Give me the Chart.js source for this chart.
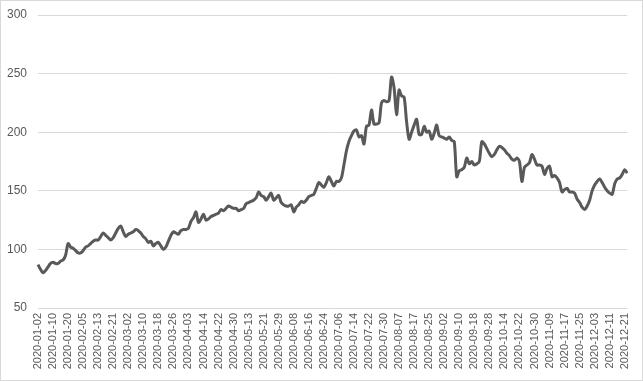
<!DOCTYPE html>
<html>
<head>
<meta charset="utf-8">
<script src="https://cdn.jsdelivr.net/npm/chart.js@4/dist/chart.umd.min.js"></script>
<style>
html,body{margin:0;padding:0;background:#fff;}
#wrap{position:relative;width:643px;height:381px;}
</style>
</head>
<body>
<div id="wrap"><canvas id="c" width="643" height="381"></canvas></div>
<script>
// Chinese A-share trading days of 2020 (weekdays minus exchange holidays)
const holidays = ["2020-01-01","2020-01-24","2020-01-27","2020-01-28","2020-01-29","2020-01-30","2020-01-31",
  "2020-04-06","2020-05-01","2020-05-04","2020-05-05","2020-06-25","2020-06-26",
  "2020-10-01","2020-10-02","2020-10-05","2020-10-06","2020-10-07","2020-10-08"];
const firstDay = "2020-01-02";
const lastDay = "2020-12-22";

const values = [
  87,83,80,82,85,88,89,88,88,90,
  91,95,105,102,101,99,97,97,99,102,
  103,105,107,108,108,111,114,112,110,108,
  110,114,118,120,115,111,113,114,115,117,
  116,114,111,109,106,107,103,105,106,103,
  100,102,107,112,115,114,113,116,117,117,
  118,124,127,132,123,126,130,125,126,128,
  129,130,131,134,133,135,137,136,135,135,
  133,134,135,139,140,141,142,144,149,146,
  145,142,145,148,142,144,146,140,138,137,
  137,138,132,136,138,141,140,142,145,146,
  147,152,157,155,153,157,162,158,154,158,
  158,161,172,184,192,197,201,202,196,197,
  190,205,206,219,207,207,208,225,227,226,
  227,247,238,215,236,231,230,209,194,200,
  206,211,198,198,205,200,201,194,199,206,
  197,196,195,194,196,193,192,162,167,168,
  170,178,173,175,172,173,175,192,190,186,
  182,179,181,185,188,187,185,182,180,177,
  176,178,175,158,170,172,174,181,177,172,
  172,171,164,169,171,162,163,161,157,149,
  151,152,149,149,148,143,140,136,134,137,
  142,150,155,158,160,157,153,150,148,147,
  156,160,161,164,168,165
];

const yTicks = [50,100,150,200,250,300];
const labelEvery = 6;

function buildDates(){
  const out = [];
  const d = new Date(firstDay + "T00:00:00Z");
  const end = new Date(lastDay + "T00:00:00Z");
  while (d <= end){
    const s = d.toISOString().slice(0,10);
    const wd = d.getUTCDay();
    if (wd !== 0 && wd !== 6 && holidays.indexOf(s) < 0) out.push(s);
    d.setUTCDate(d.getUTCDate()+1);
  }
  return out;
}
const dates = buildDates();

const borderPlugin = {
  id:'outerBorder',
  afterDraw(chart){
    const ctx = chart.ctx;
    ctx.save();
    ctx.strokeStyle = '#d9d9d9';
    ctx.lineWidth = 1;
    ctx.strokeRect(0.5,0.5,chart.width-1,chart.height-1);
    ctx.restore();
  }
};

new Chart(document.getElementById('c'), {
  type:'line',
  data:{
    labels: dates,
    datasets:[{
      data: values.slice(0, dates.length),
      borderColor:'#595959',
      borderWidth:3,
      pointRadius:0,
      tension:0.3,
      fill:false
    }]
  },
  options:{
    responsive:false,
    animation:false,
    devicePixelRatio:1,
    layout:{padding:{top:15,right:15,left:0,bottom:0}},
    plugins:{legend:{display:false},tooltip:{enabled:false}},
    scales:{
      x:{
        offset:false,
        grid:{display:false,drawTicks:false},
        border:{display:false},
        afterFit(s){ s.height = 73; s.paddingTop = 0; },
        ticks:{
          autoSkip:false,
          maxRotation:90,minRotation:90,
          padding:5,
          color:'#595959',
          font:{family:'Liberation Sans',size:11},
          callback(v,i){ return i % labelEvery === 0 ? dates[i] : null; }
        }
      },
      y:{
        min:50,max:300,
        afterFit(s){ s.width = 38; s.paddingTop = 0; s.paddingBottom = 0; },
        afterBuildTicks(s){ s.ticks = yTicks.map(v=>({value:v})); },
        grid:{color:'#d9d9d9',lineWidth:1,drawTicks:false},
        border:{display:false},
        ticks:{
          padding:11,
          color:'#595959',
          font:{family:'Liberation Sans',size:12}
        }
      }
    }
  },
  plugins:[borderPlugin]
});
</script>
</body>
</html>
